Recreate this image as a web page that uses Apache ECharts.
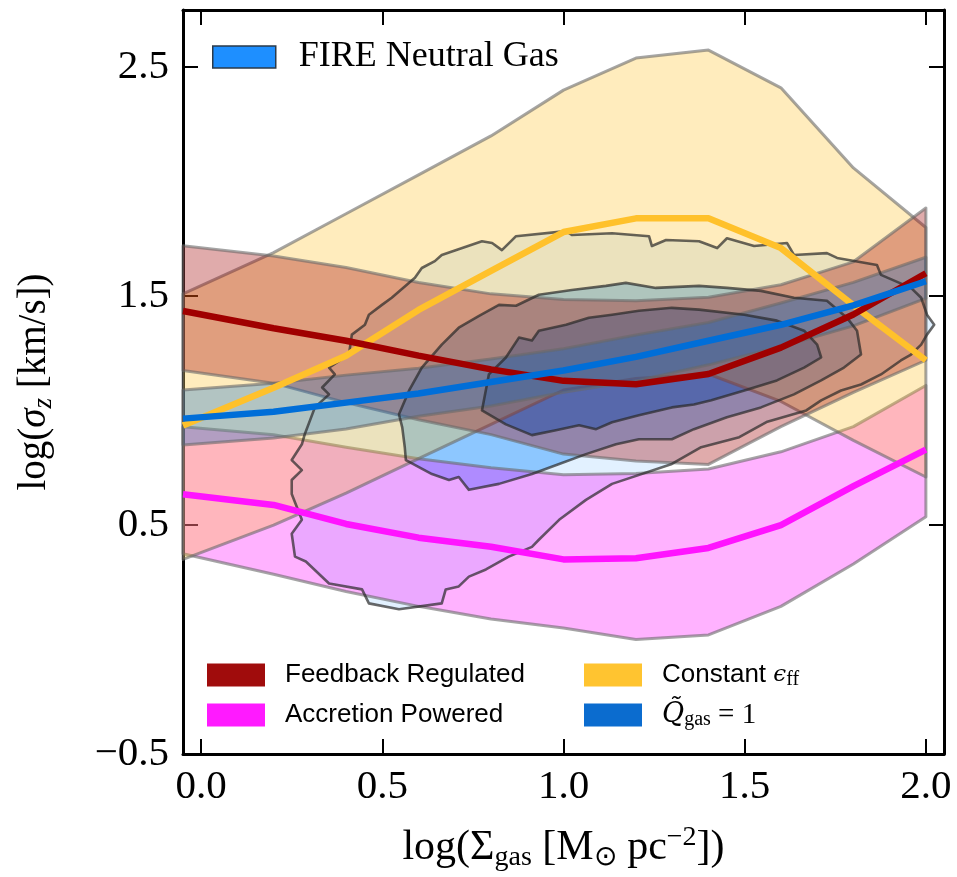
<!DOCTYPE html>
<html lang="en">
<head>
<meta charset="UTF-8">
<title>sigma_z vs Sigma_gas</title>
<script src="https://cdn.jsdelivr.net/npm/echarts@6/dist/echarts.min.js"></script>
<style>
    html, body { margin: 0; padding: 0; background: #fff; }
    #main { width: 957px; height: 877px; }
</style>
</head>
<body>
<div id="main"></div>
<script>
// grid of log(Sigma_gas) where the models are sampled
var xs = [-0.05, 0.2, 0.4, 0.6, 0.8, 1.0, 1.2, 1.4, 1.6, 1.8, 2.0];

// Feedback Regulated: median and band
var fbMid = [1.435, 1.36, 1.305, 1.24, 1.18, 1.13, 1.115, 1.16, 1.275, 1.42, 1.60];
var fbHi  = [1.72, 1.675, 1.625, 1.56, 1.51, 1.485, 1.48, 1.495, 1.55, 1.65, 1.885];
var fbLo  = [1.175, 1.12, 1.035, 0.96, 0.895, 0.81, 0.78, 0.765, 0.93, 1.08, 1.22];

// Accretion Powered
var apMid = [0.635, 0.588, 0.505, 0.445, 0.405, 0.35, 0.355, 0.40, 0.50, 0.67, 0.83];
var apHi  = [0.93, 0.895, 0.84, 0.79, 0.75, 0.72, 0.725, 0.745, 0.82, 0.93, 1.11];
var apLo  = [0.375, 0.285, 0.21, 0.145, 0.09, 0.05, 0.0, 0.02, 0.145, 0.33, 0.536];

// Constant eps_ff
var ceMid = [0.935, 1.10, 1.24, 1.44, 1.61, 1.78, 1.84, 1.84, 1.71, 1.46, 1.22];
var ceHi  = [1.51, 1.69, 1.86, 2.03, 2.20, 2.40, 2.54, 2.575, 2.41, 2.06, 1.80];
var ceLo  = [0.35, 0.50, 0.64, 0.79, 0.94, 1.09, 1.14, 1.16, 1.04, 0.87, 0.71];

// Q_gas = 1
var qMid = [0.965, 0.995, 1.035, 1.075, 1.125, 1.175, 1.235, 1.305, 1.375, 1.46, 1.565];
var qHi  = [1.09, 1.12, 1.155, 1.185, 1.225, 1.27, 1.33, 1.385, 1.47, 1.56, 1.67];
var qLo  = [0.85, 0.88, 0.92, 0.975, 1.02, 1.08, 1.13, 1.20, 1.28, 1.37, 1.49];

// FIRE neutral gas contours (outer, middle, core)
var fireOuter = [[0.259,0.362],[0.250,0.462],[0.278,0.523],[0.250,0.636],[0.250,0.697],[0.278,0.740],[0.250,0.784],[0.278,0.853],[0.286,0.897],[0.314,1.014],[0.353,1.071],[0.334,1.101],[0.369,1.158],[0.353,1.188],[0.408,1.245],[0.416,1.332],[0.452,1.375],[0.463,1.419],[0.499,1.462],[0.526,1.493],[0.590,1.580],[0.609,1.623],[0.645,1.653],[0.664,1.680],[0.775,1.740],[0.803,1.732],[0.830,1.701],[0.858,1.745],[0.869,1.762],[1.007,1.784],[1.023,1.767],[1.134,1.775],[1.236,1.762],[1.244,1.719],[1.283,1.745],[1.374,1.740],[1.424,1.710],[1.451,1.753],[1.526,1.719],[1.617,1.732],[1.636,1.680],[1.727,1.688],[1.755,1.667],[1.865,1.636],[1.876,1.593],[1.959,1.536],[1.987,1.493],[2.003,1.419],[2.023,1.375],[2.003,1.332],[1.987,1.288],[1.959,1.245],[1.931,1.219],[1.876,1.158],[1.821,1.114],[1.766,1.088],[1.711,1.045],[1.670,1.001],[1.560,0.950],[1.485,0.884],[1.380,0.840],[1.299,0.767],[1.134,0.680],[1.062,0.610],[0.988,0.523],[0.932,0.436],[0.913,0.405],[0.849,0.362],[0.786,0.306],[0.739,0.275],[0.711,0.232],[0.675,0.219],[0.664,0.158],[0.546,0.132],[0.463,0.158],[0.444,0.219],[0.353,0.245],[0.289,0.341]];
var fireMid = [[0.555,0.927],[0.546,0.984],[0.574,1.088],[0.609,1.188],[0.664,1.288],[0.711,1.362],[0.767,1.414],[0.822,1.462],[0.869,1.458],[0.932,1.506],[1.023,1.527],[1.117,1.545],[1.172,1.558],[1.255,1.536],[1.374,1.545],[1.451,1.536],[1.545,1.523],[1.636,1.493],[1.727,1.480],[1.782,1.406],[1.810,1.349],[1.821,1.245],[1.774,1.188],[1.711,1.132],[1.636,1.071],[1.545,1.014],[1.451,0.971],[1.360,0.919],[1.299,0.875],[1.208,0.875],[1.145,0.853],[1.062,0.810],[0.988,0.767],[0.913,0.723],[0.822,0.680],[0.739,0.654],[0.711,0.710],[0.684,0.697],[0.637,0.723],[0.565,0.784],[0.562,0.840]];
var fireCore = [[0.775,1.001],[0.794,1.158],[0.841,1.232],[0.877,1.319],[0.913,1.306],[0.932,1.349],[1.007,1.375],[1.070,1.406],[1.134,1.419],[1.208,1.436],[1.299,1.449],[1.374,1.441],[1.499,1.419],[1.589,1.393],[1.664,1.349],[1.700,1.288],[1.711,1.232],[1.664,1.188],[1.589,1.132],[1.499,1.088],[1.408,1.045],[1.360,1.027],[1.299,1.014],[1.208,0.980],[1.134,0.949],[1.090,0.919],[1.043,0.936],[0.979,0.914],[0.913,0.893],[0.841,0.940]];

var xTicks = [0, 0.5, 1.0, 1.5, 2.0];
var yTicks = [-0.5, 0.5, 1.5, 2.5];

var myChart = echarts.init(document.getElementById('main'));

function pairs(x, y) {
    var out = [];
    for (var i = 0; i < x.length; i++) out.push([x[i], y[i]]);
    return out;
}

// closed shape through the library's own coordinate mapping
function shape(name, pts, fill, stroke, width, z) {
    return {
        name: name, type: 'custom', z: z, silent: true,
        data: [[0, 0]],
        itemStyle: { color: fill },
        renderItem: function (params, api) {
            var p = pts.map(function (d) { return api.coord(d); });
            return {
                type: 'polygon',
                shape: { points: p },
                style: { fill: fill, stroke: stroke, lineWidth: width, lineJoin: 'round' }
            };
        }
    };
}

function band(name, hi, lo, fill) {
    var pts = pairs(xs, hi).concat(pairs(xs, lo).reverse());
    return shape(name, pts, fill, 'rgba(105,105,105,0.6)', 3, 3);
}

function median(name, ys, color) {
    return {
        name: name, type: 'line', z: 6, silent: true,
        data: pairs(xs, ys), showSymbol: false, symbol: 'none',
        lineStyle: { width: 6.5, color: color },
        itemStyle: { color: color }
    };
}

var fireBlue = 'rgba(30,144,255,';
var edge = 'rgba(40,40,40,0.7)';

var series = [
    shape('FIRE Neutral Gas', fireOuter, fireBlue + '0.13)', 'none', 0, 1),
    shape('fire2', fireMid, fireBlue + '0.43)', 'none', 0, 1),
    shape('fire3', fireCore, fireBlue + '0.8)', 'none', 0, 1),
    band('apBand', apHi, apLo, 'rgba(255,0,255,0.3)'),
    band('ceBand', ceHi, ceLo, 'rgba(255,193,37,0.3)'),
    band('fbBand', fbHi, fbLo, 'rgba(160,0,0,0.33)'),
    band('qBand', qHi, qLo, 'rgba(0,102,204,0.3)'),
    shape('fireLine1', fireOuter, 'none', edge, 2.6, 4),
    shape('fireLine2', fireMid, 'none', edge, 2.6, 4),
    shape('fireLine3', fireCore, 'none', edge, 2.6, 4),
    median('Accretion Powered', apMid, '#ff14ff'),
    median('Constant eff', ceMid, '#ffc12b'),
    median('Feedback Regulated', fbMid, '#a00000'),
    median('Qgas', qMid, '#006ed8')
];

var serif = 'Liberation Serif';
var frame = { show: true, onZero: false, lineStyle: { color: '#000', width: 3 } };
function ticks(vals) {
    return { show: true, inside: true, length: 15, customValues: vals, lineStyle: { color: '#000', width: 2 } };
}
function fmt(v) {
    return (v < 0 ? '\u2212' : '') + Math.abs(v).toFixed(1);
}

var option = {
    animation: false,
    backgroundColor: '#fff',
    grid: { left: 183, right: 13, top: 10, bottom: 119 },
    xAxis: [{
        type: 'value', min: -0.05, max: 2.05, position: 'bottom',
        axisLine: frame, axisTick: ticks(xTicks), splitLine: { show: false },
        axisLabel: { customValues: xTicks, formatter: fmt, fontFamily: serif, fontSize: 41, color: '#000', margin: 13 },
        name: 'log(\u03a3{sub|gas} [M{sub|\u2299} pc{sup|\u22122}])',
        nameLocation: 'middle', nameGap: 70,
        nameTextStyle: {
            fontFamily: serif, fontSize: 42, color: '#000', lineHeight: 48,
            rich: {
                sub: { fontFamily: serif, fontSize: 28, color: '#000', lineHeight: 24, verticalAlign: 'bottom' },
                sup: { fontFamily: serif, fontSize: 28, color: '#000', lineHeight: 24, verticalAlign: 'top' }
            }
        }
    }, {
        type: 'value', min: -0.05, max: 2.05, position: 'top',
        axisLine: frame, axisTick: ticks(xTicks), axisLabel: { show: false }, splitLine: { show: false }
    }],
    yAxis: [{
        type: 'value', min: -0.5, max: 2.75, position: 'left',
        axisLine: frame, axisTick: ticks(yTicks), splitLine: { show: false },
        axisLabel: { customValues: yTicks, formatter: fmt, fontFamily: serif, fontSize: 41, color: '#000', margin: 14 },
        name: 'log({it|\u03c3}{sub|z} [km/s])',
        nameLocation: 'middle', nameRotate: 90, nameGap: 126,
        nameTextStyle: {
            fontFamily: serif, fontSize: 39, color: '#000', lineHeight: 44,
            rich: {
                it: { fontFamily: serif, fontStyle: 'italic', fontSize: 39, color: '#000', lineHeight: 44 },
                sub: { fontFamily: serif, fontStyle: 'italic', fontSize: 27, color: '#000', lineHeight: 22, verticalAlign: 'bottom' }
            }
        }
    }, {
        type: 'value', min: -0.5, max: 2.75, position: 'right',
        axisLine: frame, axisTick: ticks(yTicks), axisLabel: { show: false }, splitLine: { show: false }
    }],
    legend: [{
        left: 207, top: 34, icon: 'rect', itemWidth: 63, itemHeight: 22, selectedMode: false,
        data: [{ name: 'FIRE Neutral Gas', itemStyle: { color: '#1e8fff', borderColor: '#2a3a4a', borderWidth: 1.5 } }],
        textStyle: { fontFamily: serif, fontSize: 36, color: '#000', padding: [0, 0, 0, 18] }
    }, {
        left: 202, top: 655, orient: 'vertical', icon: 'rect', itemWidth: 58, itemHeight: 23, itemGap: 10,
        selectedMode: false,
        data: [
            { name: 'Feedback Regulated', itemStyle: { color: '#a00c0c', borderWidth: 0 } },
            { name: 'Accretion Powered', itemStyle: { color: '#ff1aff', borderWidth: 0 } }
        ],
        textStyle: { fontFamily: 'Liberation Sans', fontSize: 26, color: '#000', lineHeight: 30, padding: [0, 0, 0, 15] }
    }, {
        left: 579, top: 655, orient: 'vertical', icon: 'rect', itemWidth: 58, itemHeight: 23, itemGap: 10,
        selectedMode: false,
        data: [
            { name: 'Constant eff', itemStyle: { color: '#ffc430', borderWidth: 0 } },
            { name: 'Qgas', itemStyle: { color: '#0b6ccf', borderWidth: 0 } }
        ],
        formatter: function (name) {
            if (name === 'Constant eff') return 'Constant {e|\u03f5}{sub|ff}';
            return '{q|Q\u0303}{sub|gas}{m| = 1}';
        },
        textStyle: {
            fontFamily: 'Liberation Sans', fontSize: 26, color: '#000', lineHeight: 30, padding: [0, 0, 0, 15],
            rich: {
                e: { fontFamily: 'DejaVu Serif', fontStyle: 'italic', fontSize: 23, color: '#000', lineHeight: 30 },
                q: { fontFamily: 'DejaVu Serif', fontStyle: 'italic', fontSize: 27, color: '#000', lineHeight: 30 },
                m: { fontFamily: serif, fontSize: 29, color: '#000', lineHeight: 30 },
                sub: { fontFamily: serif, fontSize: 20, color: '#000', lineHeight: 14, verticalAlign: 'bottom' }
            }
        }
    }],
    series: series
};

myChart.setOption(option);
</script>
</body>
</html>
